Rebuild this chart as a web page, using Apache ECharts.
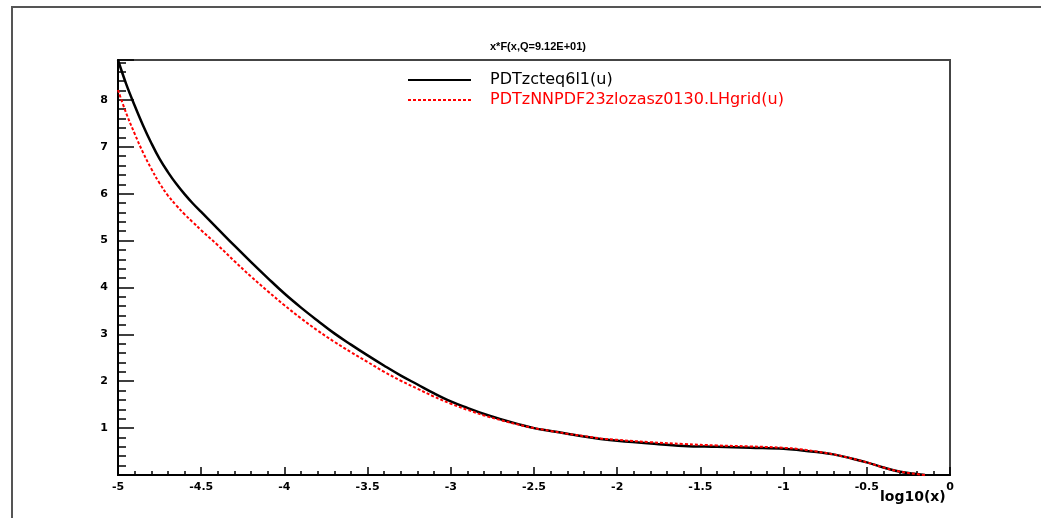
<!DOCTYPE html>
<html>
<head>
<meta charset="utf-8">
<script src="https://cdn.jsdelivr.net/npm/echarts@6/dist/echarts.min.js"></script>
<style>
html,body{margin:0;padding:0;background:#fff;}
#c{width:1041px;height:518px;}
</style>
</head>
<body>
<div id="c"></div>
<script>
var titleText = 'x*F(x,Q=9.12E+01)';
var seriesNames = ['PDTzcteq6l1(u)', 'PDTzNNPDF23zlozasz0130.LHgrid(u)'];
var xValues = [-5.0,-4.95,-4.9,-4.85,-4.8,-4.75,-4.7,-4.65,-4.6,-4.55,-4.5,-4.4,-4.3,-4.2,-4.1,-4.0,-3.9,-3.8,-3.7,-3.6,-3.5,-3.4,-3.3,-3.2,-3.1,-3.0,-2.9,-2.8,-2.7,-2.6,-2.5,-2.4,-2.3,-2.2,-2.1,-2.0,-1.8,-1.6,-1.4,-1.2,-1.0,-0.9,-0.8,-0.7,-0.6,-0.5,-0.4,-0.3,-0.2,-0.15];
var cteqValues = [8.85,8.33,7.88,7.46,7.08,6.74,6.46,6.21,5.99,5.79,5.61,5.25,4.89,4.54,4.20,3.87,3.57,3.29,3.02,2.78,2.55,2.33,2.12,1.93,1.74,1.57,1.43,1.30,1.19,1.09,1.00,0.94,0.88,0.82,0.77,0.73,0.67,0.62,0.60,0.58,0.56,0.53,0.49,0.44,0.36,0.27,0.16,0.07,0.02,0.0];
var nnpdfValues = [8.21,7.71,7.28,6.88,6.53,6.22,5.96,5.75,5.56,5.39,5.22,4.90,4.56,4.23,3.92,3.62,3.34,3.08,2.84,2.62,2.41,2.20,2.01,1.84,1.67,1.52,1.39,1.27,1.17,1.08,1.00,0.94,0.88,0.83,0.78,0.75,0.70,0.66,0.63,0.61,0.58,0.55,0.50,0.44,0.36,0.27,0.16,0.07,0.02,0.0];
var xAxisName = 'log10(x)';

function pairs(xs, ys){ return xs.map(function(x,i){ return [x, ys[i]]; }); }

var chart = echarts.init(document.getElementById('c'));
var labelFont = {fontFamily:'DejaVu Sans, sans-serif', fontWeight:'bold', fontSize:11, color:'#000'};
chart.setOption({
  animation:false,
  backgroundColor:'#fff',
  title:{text:titleText, left:533, top:36, textAlign:'center',
    textStyle:{fontFamily:'Liberation Sans, Arial, sans-serif', fontWeight:'bold', fontSize:11, color:'#000'}},
  graphic:[{type:'rect', shape:{x:12, y:7, width:1100, height:600}, style:{fill:'none', stroke:'#555', lineWidth:2}, silent:true, z:-1}],
  legend:{orient:'vertical', left:402, top:67, itemWidth:63, itemHeight:2, itemGap:4,
    textStyle:{fontFamily:'DejaVu Sans, sans-serif', fontSize:16, padding:[0,0,0,14]},
    data:[{name:seriesNames[0], textStyle:{color:'#000'}},{name:seriesNames[1], textStyle:{color:'#ff0000'}}]},
  grid:{left:118, right:91, top:60, bottom:43, show:true, borderColor:'#444', borderWidth:2, backgroundColor:'#fff'},
  xAxis:{type:'value', min:-5, max:0, interval:0.5,
    axisLine:{onZero:false, lineStyle:{color:'#000', width:2}},
    axisTick:{inside:true, length:8, lineStyle:{color:'#000', width:1.5}},
    minorTick:{show:true, splitNumber:5, length:4, lineStyle:{color:'#000', width:1.5}},
    splitLine:{show:false},
    axisLabel:Object.assign({margin:7}, labelFont),
    name:xAxisName, nameLocation:'end', nameGap:-70, nameMoveOverlap:false,
    nameTextStyle:{fontFamily:'DejaVu Sans, sans-serif', fontWeight:'bold', fontSize:14, color:'#000', align:'left', verticalAlign:'top', padding:[15,0,0,0]}},
  yAxis:{type:'value', min:0, max:8.85, interval:1,
    axisLine:{onZero:false, lineStyle:{color:'#000', width:2}},
    axisTick:{inside:true, length:16, lineStyle:{color:'#000', width:1.5}},
    minorTick:{show:true, splitNumber:5, length:8, lineStyle:{color:'#000', width:1.5}},
    splitLine:{show:false},
    axisLabel:Object.assign({margin:10, showMaxLabel:false, showMinLabel:false}, labelFont)},
  series:[
    {name:seriesNames[0], type:'line', data:pairs(xValues, cteqValues), smooth:0.4, symbol:'none',
      lineStyle:{color:'#000', width:2.5}, itemStyle:{color:'#000'}},
    {name:seriesNames[1], type:'line', data:pairs(xValues, nnpdfValues), smooth:0.4, symbol:'none',
      lineStyle:{color:'#ff0000', width:2, type:[3,2]}, itemStyle:{color:'#ff0000'}}
  ]
});
</script>
</body>
</html>
